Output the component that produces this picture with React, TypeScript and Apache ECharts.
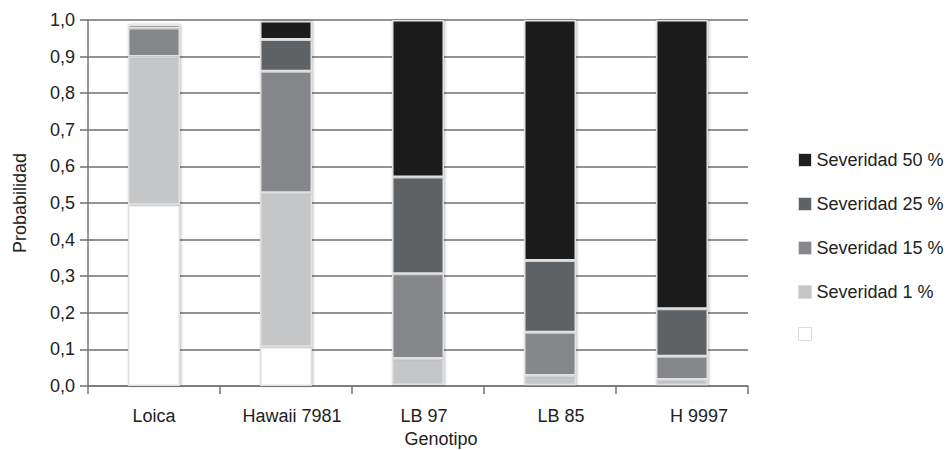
import React, { useEffect, useRef } from "react";
import * as echarts from "echarts";

const categories = ["Loica", "Hawaii 7981", "LB 97", "LB 85", "H 9997"];
const sev0 = [0.495, 0.107, 0.003, 0.002, 0.002];
const sev1 = [0.405, 0.421, 0.072, 0.027, 0.016];
const sev15 = [0.078, 0.332, 0.232, 0.118, 0.063];
const sev25 = [0.01, 0.087, 0.264, 0.196, 0.13];
const sev50 = [0.004, 0.05, 0.429, 0.657, 0.789];

const seriesNames = ["Severidad 0 %", "Severidad 1 %", "Severidad 15 %", "Severidad 25 %", "Severidad 50 %"];
const seriesValues = [sev0, sev1, sev15, sev25, sev50];
const seriesColors = ["#ffffff", "#c5c6c8", "#85878a", "#5f6265", "#1f1f1f"];
const legendOrder = ["Severidad 50 %", "Severidad 25 %", "Severidad 15 %", "Severidad 1 %", "Severidad 0 %"];
const labelShift = [0, 12, 12, 22, 34];

const FONT = "'Liberation Sans', Arial, sans-serif";

export default function App() {
  const ref = useRef<HTMLDivElement>(null);
  useEffect(() => {
    if (!ref.current) return;
    const chart = echarts.init(ref.current, undefined, { renderer: "svg" });
    const rich: Record<string, any> = {};
    labelShift.forEach((p, i) => {
      rich["a" + i] = { fontSize: 18, color: "#222", fontFamily: FONT, padding: [0, 0, 0, p] };
    });
    chart.setOption({
      animation: false,
      backgroundColor: "#ffffff",
      textStyle: { fontFamily: FONT },
      grid: { left: 88, right: 203, top: 20, bottom: 64 },
      legend: {
        orient: "vertical",
        left: 793,
        top: 146,
        itemWidth: 13,
        itemHeight: 13,
        itemGap: 26,
        icon: "rect",
        data: legendOrder,
        formatter: (name: string) => (name === "Severidad 0 %" ? "" : name),
        textStyle: { fontSize: 18, color: "#222", fontFamily: FONT, lineHeight: 18 },
        itemStyle: { borderColor: "#dcdcdc", borderWidth: 1 },
      },
      xAxis: {
        type: "category",
        data: categories,
        axisLine: { show: true, lineStyle: { color: "#777", width: 1.5 } },
        axisTick: { show: true, length: 8, lineStyle: { color: "#777", width: 1.5 } },
        axisLabel: {
          interval: 0,
          hideOverlap: false,
          margin: 21,
          fontSize: 18,
          color: "#222",
          formatter: (v: string, i: number) => `{a${i}|${v}}`,
          rich,
        },
      },
      yAxis: {
        type: "value",
        min: 0,
        max: 1,
        interval: 0.1,
        name: "Probabilidad",
        nameLocation: "middle",
        nameGap: 59,
        nameTextStyle: { fontSize: 18, color: "#222", fontFamily: FONT },
        axisLine: { show: true, lineStyle: { color: "#777", width: 1.5 } },
        axisTick: { show: true, length: 8, lineStyle: { color: "#6f6f6f", width: 1.5 } },
        axisLabel: {
          margin: 13,
          fontSize: 18,
          color: "#222",
          formatter: (v: number) => v.toFixed(1).replace(".", ","),
        },
        splitLine: { show: true, lineStyle: { color: "#6f6f6f", width: 1.5 } },
      },
      graphic: [
        {
          type: "text",
          x: 441,
          y: 439,
          style: {
            text: "Genotipo",
            fontSize: 18,
            fill: "#222",
            fontFamily: FONT,
            align: "center",
            verticalAlign: "middle",
          },
        },
      ],
      series: seriesNames.map((name, i) => ({
        name,
        type: "bar",
        stack: "total",
        barWidth: 52,
        data: seriesValues[i],
        itemStyle: {
          color: seriesColors[i],
          borderColor: "#e2e2e2",
          borderWidth: 1.5,
          shadowBlur: 3,
          shadowColor: "rgba(0,0,0,0.25)",
          shadowOffsetX: 1,
          shadowOffsetY: 0,
        },
      })),
    });
    return () => chart.dispose();
  }, []);
  return (
    <div
      ref={ref}
      style={{ position: "fixed", left: 0, top: 0, width: 951, height: 450 }}
    />
  );
}
